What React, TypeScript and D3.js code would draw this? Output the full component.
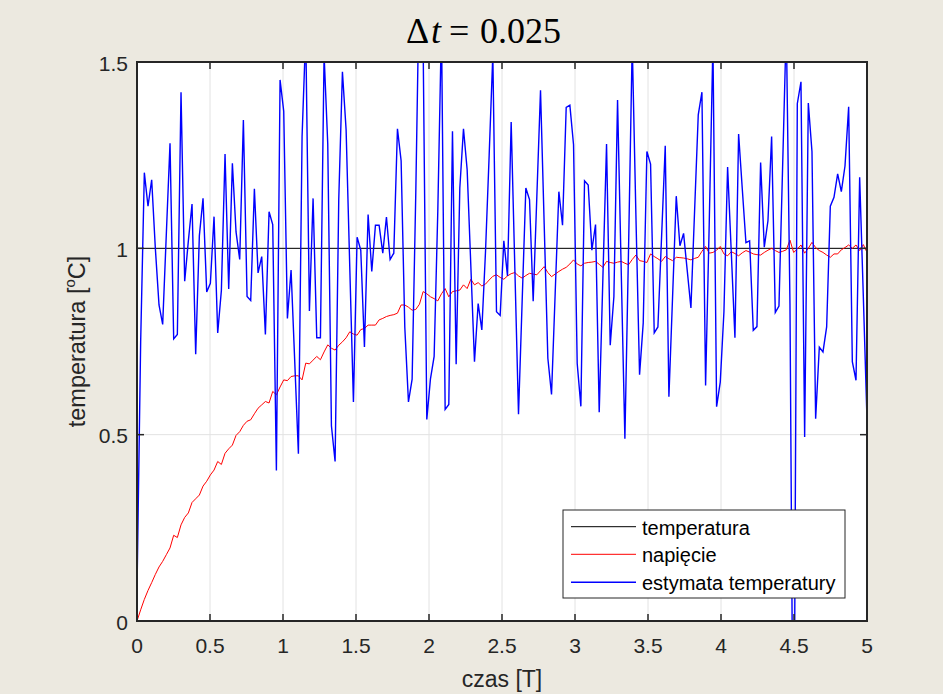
import React from 'react';
import * as d3 from 'd3';

// ---- data ----
const sampleCount = 200;
const timeEnd = 5;
const sampleTimes = d3.range(sampleCount).map((i) => (i * timeEnd) / (sampleCount - 1));

const temperaturaTimes = [0, 5];
const temperaturaValues = [1, 1];

const napiecieValues = [
  0.000, 0.030, 0.058, 0.082, 0.103, 0.125, 0.145, 0.160, 0.178, 0.196,
  0.230, 0.224, 0.258, 0.278, 0.290, 0.318, 0.328, 0.338, 0.362, 0.375,
  0.392, 0.405, 0.428, 0.420, 0.450, 0.462, 0.472, 0.498, 0.508, 0.525,
  0.536, 0.540, 0.556, 0.571, 0.580, 0.589, 0.585, 0.616, 0.607, 0.628,
  0.647, 0.645, 0.656, 0.658, 0.658, 0.647, 0.692, 0.690, 0.700, 0.710,
  0.701, 0.722, 0.741, 0.732, 0.727, 0.740, 0.749, 0.760, 0.776, 0.770,
  0.767, 0.782, 0.785, 0.794, 0.794, 0.794, 0.808, 0.812, 0.817, 0.820,
  0.822, 0.826, 0.848, 0.848, 0.842, 0.834, 0.836, 0.850, 0.884, 0.878,
  0.870, 0.865, 0.859, 0.878, 0.892, 0.870, 0.884, 0.886, 0.888, 0.902,
  0.892, 0.917, 0.902, 0.908, 0.899, 0.904, 0.915, 0.925, 0.929, 0.922,
  0.917, 0.926, 0.932, 0.935, 0.926, 0.920, 0.927, 0.933, 0.931, 0.929,
  0.940, 0.951, 0.935, 0.924, 0.931, 0.938, 0.944, 0.949, 0.958, 0.969,
  0.958, 0.953, 0.960, 0.962, 0.963, 0.965, 0.957, 0.949, 0.965, 0.962,
  0.960, 0.963, 0.965, 0.960, 0.956, 0.970, 0.982, 0.967, 0.965, 0.962,
  0.985, 0.978, 0.972, 0.965, 0.978, 0.972, 0.967, 0.976, 0.975, 0.974,
  0.972, 0.969, 0.973, 0.976, 0.992, 1.005, 0.987, 0.989, 0.995, 1.005,
  0.985, 0.980, 0.991, 0.986, 0.980, 0.988, 0.994, 0.990, 0.985, 0.983,
  0.982, 0.989, 0.995, 1.000, 0.994, 0.989, 0.992, 0.996, 1.022, 0.989,
  0.998, 1.009, 0.987, 1.000, 1.016, 1.002, 0.994, 0.989, 0.982, 0.976,
  0.985, 0.985, 0.996, 1.002, 1.009, 1.000, 1.009, 0.994, 1.010, 0.989,
];

const estymataValues = [
  0.080, 0.750, 1.203, 1.113, 1.184, 1.000, 0.848, 0.796, 1.040, 1.282,
  0.757, 0.769, 1.419, 0.912, 1.020, 1.119, 0.716, 1.034, 1.134, 0.883,
  0.906, 1.085, 0.773, 0.887, 1.253, 0.891, 1.228, 1.044, 0.970, 1.344,
  0.871, 0.860, 1.160, 0.934, 0.978, 0.769, 1.098, 1.064, 0.404, 1.452,
  1.368, 0.812, 0.942, 0.696, 0.449, 1.300, 1.580, 0.832, 1.134, 0.760,
  0.760, 1.520, 1.280, 0.524, 0.428, 1.132, 1.474, 1.319, 0.950, 0.588,
  1.030, 0.995, 0.735, 1.091, 0.938, 1.062, 1.062, 0.987, 1.084, 0.970,
  0.987, 1.321, 1.235, 0.789, 0.588, 0.649, 1.150, 1.750, 1.550, 0.541,
  0.650, 0.710, 1.100, 1.600, 0.568, 0.581, 1.314, 0.689, 1.162, 1.321,
  1.211, 0.954, 0.696, 0.852, 0.781, 0.990, 1.250, 1.520, 0.830, 0.820,
  1.020, 0.926, 1.339, 0.947, 0.555, 0.860, 1.162, 1.131, 0.858, 1.140,
  1.424, 1.065, 0.705, 0.608, 0.880, 1.152, 1.062, 1.378, 1.384, 1.278,
  0.691, 0.576, 1.181, 1.170, 0.995, 1.064, 0.560, 0.920, 1.280, 0.740,
  0.870, 1.398, 0.940, 0.489, 1.000, 1.550, 1.090, 0.661, 0.800, 1.260,
  1.226, 0.773, 0.789, 1.030, 1.275, 0.602, 0.870, 1.140, 1.007, 1.040,
  0.940, 0.840, 1.100, 1.358, 1.419, 0.632, 1.070, 1.550, 0.575, 0.641,
  0.830, 1.218, 0.990, 0.760, 1.307, 1.160, 1.015, 1.020, 0.780, 0.790,
  1.230, 1.003, 1.074, 1.300, 0.828, 0.845, 1.220, 1.600, 0.850, -0.600,
  1.388, 1.447, 0.494, 1.390, 1.260, 0.543, 0.735, 0.722, 0.789, 1.113,
  1.137, 1.200, 1.152, 1.221, 1.380, 0.696, 0.646, 1.191, 0.870, 0.540,
];

const xTicks = [0, 0.5, 1, 1.5, 2, 2.5, 3, 3.5, 4, 4.5, 5];
const xTickLabels = ['0', '0.5', '1', '1.5', '2', '2.5', '3', '3.5', '4', '4.5', '5'];
const yTicks = [0, 0.5, 1, 1.5];
const yTickLabels = ['0', '0.5', '1', '1.5'];
const legendLabels = ['temperatura', 'napięcie', 'estymata temperatury'];
const seriesColors = ['#000000', '#ff0000', '#0000ff'];

// ---- layout ----
const W = 943;
const H = 694;
const L = 137;
const R = 867;
const T = 62;
const B = 621;
const BG = '#ECE9E0';
const AX = '#262626';
const GRID = '#E2E2E2';
const SANS = '"Liberation Sans", Arial, Helvetica, sans-serif';
const SERIF = '"Liberation Serif", "Times New Roman", serif';

export default function App() {
  const x = d3.scaleLinear().domain([0, 5]).range([L, R]);
  const y = d3.scaleLinear().domain([0, 1.5]).range([B, T]);
  const line = d3
    .line<[number, number]>()
    .x((d) => x(d[0]))
    .y((d) => y(d[1]));

  const tempPts = temperaturaTimes.map((t, i) => [t, temperaturaValues[i]] as [number, number]);
  const redPts = sampleTimes.map((t, i) => [t, napiecieValues[i]] as [number, number]);
  const bluePts = sampleTimes.map((t, i) => [t, estymataValues[i]] as [number, number]);
  const seriesPaths = [line(tempPts), line(redPts), line(bluePts)];
  const seriesWidths = [1, 1, 1.4];

  const tickLen = 7;
  const legX = 563;
  const legY = 510;
  const legW = 282;
  const legH = 88;
  const legRows = [526.7, 554.3, 582.3];

  return (
    <svg
      width={W}
      height={H}
      viewBox={`0 0 ${W} ${H}`}
      style={{ position: 'absolute', left: 0, top: 0, display: 'block' }}
    >
      <defs>
        <clipPath id="plotClip">
          <rect x={L} y={T} width={R - L} height={B - T} />
        </clipPath>
      </defs>
      <rect x={0} y={0} width={W} height={H} fill={BG} />
      <rect x={L} y={T} width={R - L} height={B - T} fill="#ffffff" />

      {/* grid */}
      {xTicks.map((t) => (
        <line key={'gx' + t} x1={x(t)} x2={x(t)} y1={T} y2={B} stroke={GRID} strokeWidth={1} />
      ))}
      {yTicks.map((t) => (
        <line key={'gy' + t} x1={L} x2={R} y1={y(t)} y2={y(t)} stroke={GRID} strokeWidth={1} />
      ))}

      {/* series */}
      <g clipPath="url(#plotClip)">
        {seriesPaths.map((p, i) => (
          <path
            key={'s' + i}
            d={p || ''}
            fill="none"
            stroke={seriesColors[i]}
            strokeWidth={seriesWidths[i]}
            strokeLinejoin="miter"
          />
        ))}
      </g>

      {/* ticks */}
      {xTicks.map((t) => (
        <g key={'tx' + t}>
          <line x1={x(t)} x2={x(t)} y1={B} y2={B - tickLen} stroke={AX} strokeWidth={1.5} />
          <line x1={x(t)} x2={x(t)} y1={T} y2={T + tickLen} stroke={AX} strokeWidth={1.5} />
        </g>
      ))}
      {yTicks.map((t) => (
        <g key={'ty' + t}>
          <line x1={L} x2={L + tickLen} y1={y(t)} y2={y(t)} stroke={AX} strokeWidth={1.5} />
          <line x1={R} x2={R - tickLen} y1={y(t)} y2={y(t)} stroke={AX} strokeWidth={1.5} />
        </g>
      ))}

      {/* axes box */}
      <rect x={L} y={T} width={R - L} height={B - T} fill="none" stroke={AX} strokeWidth={2} />

      {/* tick labels */}
      {xTicks.map((t, i) => (
        <text
          key={'lx' + t}
          x={x(t)}
          y={653}
          textAnchor="middle"
          fontFamily={SANS}
          fontSize={21}
          fill={AX}
        >
          {xTickLabels[i]}
        </text>
      ))}
      {yTicks.map((t, i) => (
        <text
          key={'ly' + t}
          x={128}
          y={y(t) + 1}
          textAnchor="end"
          dominantBaseline="central"
          fontFamily={SANS}
          fontSize={21}
          fill={AX}
        >
          {yTickLabels[i]}
        </text>
      ))}

      {/* axis labels */}
      <text x={(L + R) / 2} y={687} textAnchor="middle" fontFamily={SANS} fontSize={23} fill={AX}>
        czas [T]
      </text>
      <text
        transform={`translate(85, ${(T + B) / 2}) rotate(-90)`}
        textAnchor="middle"
        fontFamily={SANS}
        fontSize={23.5}
        fill={AX}
      >
        temperatura [
        <tspan fontSize={15} dy={-10}>o</tspan>
        <tspan dy={10}>C]</tspan>
      </text>

      {/* title */}
      <text y={43} fontFamily={SERIF} fontSize={36} fill="#000">
        <tspan x={406}>Δ</tspan>
        <tspan x={431} fontStyle="italic">t</tspan>
        <tspan x={449}>=</tspan>
        <tspan x={480}>0.025</tspan>
      </text>

      {/* legend */}
      <rect x={legX} y={legY} width={legW} height={legH} fill="#ffffff" stroke={AX} strokeWidth={1} />
      {legendLabels.map((lab, i) => (
        <g key={'leg' + i}>
          <line
            x1={571}
            x2={636}
            y1={legRows[i]}
            y2={legRows[i]}
            stroke={seriesColors[i]}
            strokeWidth={seriesWidths[i]}
          />
          <text
            x={642}
            y={legRows[i] + 1}
            dominantBaseline="central"
            fontFamily={SANS}
            fontSize={20}
            fill="#000"
          >
            {lab}
          </text>
        </g>
      ))}
    </svg>
  );
}
